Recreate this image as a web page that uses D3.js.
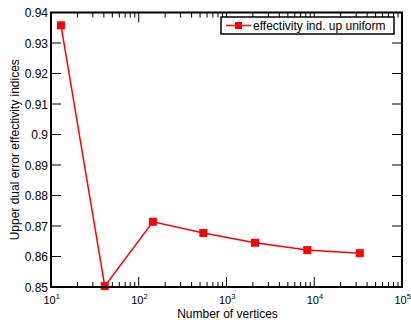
<!DOCTYPE html>
<html>
<head>
<meta charset="utf-8">
<script src="https://cdn.jsdelivr.net/npm/d3@7"></script>
<style>
  html, body { margin: 0; padding: 0; background: #fff; }
  svg { display: block; font-family: "Liberation Sans", Arial, Helvetica, sans-serif; }
</style>
</head>
<body>
<svg id="chart" width="411" height="320"></svg>
<script>
// Mesh sizes (number of vertices) and the effectivity index for each mesh
const vertices = [13, 41, 145, 545, 2113, 8321, 33025];
const effectivity = [0.9358, 0.8503, 0.8714, 0.8677, 0.8645, 0.8621, 0.8611];
const seriesName = "effectivity ind. up uniform";
const xTickExponents = [1, 2, 3, 4, 5];
const yTicks = [0.85, 0.86, 0.87, 0.88, 0.89, 0.9, 0.91, 0.92, 0.93, 0.94];
const xTitle = "Number of vertices";
const yTitle = "Upper dual error effectivity indices";

const svg = d3.select("#chart");
const L = 51, R = 402, T = 12.5, B = 287;

const x = d3.scaleLog().domain([10, 1e5]).range([L, R]);
const y = d3.scaleLinear().domain([0.85, 0.94]).range([B, T]);

const red = "#ff0000";
const majorLen = 10, minorLen = 5;

// Minor log ticks along x
const minorX = [];
for (let e = 1; e < 5; e++) for (let m = 2; m <= 9; m++) minorX.push(m * Math.pow(10, e));

const g = svg.append("g");

// bottom & top x ticks (inward)
const xMajor = xTickExponents.map(e => Math.pow(10, e));
g.selectAll("line.xmajb").data(xMajor).join("line")
  .attr("x1", d => x(d)).attr("x2", d => x(d)).attr("y1", B).attr("y2", B - majorLen)
  .attr("stroke", "#000").attr("stroke-width", 1);
g.selectAll("line.xmajt").data(xMajor).join("line")
  .attr("x1", d => x(d)).attr("x2", d => x(d)).attr("y1", T).attr("y2", T + majorLen)
  .attr("stroke", "#000").attr("stroke-width", 1);
g.selectAll("line.xminb").data(minorX).join("line")
  .attr("x1", d => x(d)).attr("x2", d => x(d)).attr("y1", B).attr("y2", B - minorLen)
  .attr("stroke", "#000").attr("stroke-width", 1);
g.selectAll("line.xmint").data(minorX).join("line")
  .attr("x1", d => x(d)).attr("x2", d => x(d)).attr("y1", T).attr("y2", T + minorLen)
  .attr("stroke", "#000").attr("stroke-width", 1);

// left & right y ticks (inward)
g.selectAll("line.yl").data(yTicks).join("line")
  .attr("x1", L).attr("x2", L + majorLen).attr("y1", d => y(d)).attr("y2", d => y(d))
  .attr("stroke", "#000").attr("stroke-width", 1);
g.selectAll("line.yr").data(yTicks).join("line")
  .attr("x1", R).attr("x2", R - majorLen).attr("y1", d => y(d)).attr("y2", d => y(d))
  .attr("stroke", "#000").attr("stroke-width", 1);

// y tick labels
g.selectAll("text.yl").data(yTicks).join("text")
  .attr("x", L - 3).attr("y", d => y(d) + 4.5)
  .attr("text-anchor", "end").attr("font-size", 12).attr("fill", "#000")
  .text(d => d3.format("")(+d.toFixed(2)));

// x tick labels: 10 with superscript exponent
xTickExponents.forEach(e => {
  const t = g.append("text").attr("x", x(Math.pow(10, e)) - 7.5).attr("y", 304)
    .attr("text-anchor", "start").attr("font-size", 11).attr("fill", "#000");
  t.append("tspan").text("10");
  t.append("tspan").attr("font-size", 7.5).attr("dy", -5.5).text(String(e));
});

// axis titles
svg.append("text").attr("x", (L + R) / 2 + 1).attr("y", 317.5)
  .attr("text-anchor", "middle").attr("font-size", 12).text(xTitle);
svg.append("text").attr("transform", `translate(19,${(T + B) / 2}) rotate(-90)`)
  .attr("text-anchor", "middle").attr("font-size", 12).text(yTitle);

// series line and markers
const pts = vertices.map((v, i) => [v, effectivity[i]]);
svg.append("path").datum(pts)
  .attr("fill", "none").attr("stroke", red).attr("stroke-width", 1.5)
  .attr("d", d3.line().x(d => x(d[0])).y(d => y(d[1])));
svg.selectAll("rect.mk").data(pts).join("rect")
  .attr("x", d => x(d[0]) - 4).attr("y", d => y(d[1]) - 4)
  .attr("width", 8).attr("height", 8).attr("fill", red);

// frame
svg.append("rect").attr("x", L).attr("y", T).attr("width", R - L).attr("height", B - T)
  .attr("fill", "none").attr("stroke", "#000").attr("stroke-width", 2);

// legend
const lg = svg.append("g");
lg.append("rect").attr("x", 221).attr("y", 17).attr("width", 173).attr("height", 17)
  .attr("fill", "#fff").attr("stroke", "#000").attr("stroke-width", 1.5);
lg.append("line").attr("x1", 226).attr("x2", 251).attr("y1", 25.5).attr("y2", 25.5)
  .attr("stroke", red).attr("stroke-width", 1.5);
lg.append("rect").attr("x", 235).attr("y", 22).attr("width", 7).attr("height", 7).attr("fill", red);
lg.append("text").attr("x", 253).attr("y", 30).attr("font-size", 12).text(seriesName);
</script>
</body>
</html>
